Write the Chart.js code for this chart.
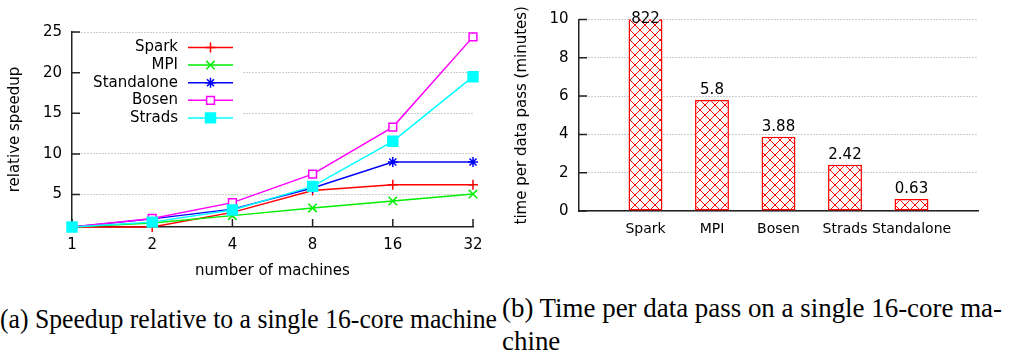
<!DOCTYPE html>
<html>
<head>
<meta charset="utf-8">
<script src="https://cdn.jsdelivr.net/npm/chart.js@4"></script>
<style>
  body { margin: 0; background: #fff; width: 1012px; height: 354px; position: relative; overflow: hidden; }
  .box { position: absolute; }
  .cap { position: absolute; font-family: "Liberation Serif", "Times New Roman", serif; font-size: 27px; line-height: 27px; white-space: nowrap; transform-origin: 0 0; color: #000; }
</style>
</head>
<body>
<div class="box" style="left:0;top:0"><canvas id="speedup" width="500" height="290"></canvas></div>
<div class="box" style="left:500px;top:0"><canvas id="pass" width="512" height="260"></canvas></div>
<div class="cap" id="capA" style="left:0;top:306px">(a) Speedup relative to a single 16-core machine</div>
<div class="cap" id="capB1" style="left:502px;top:295px">(b) Time per data pass on a single 16-core ma-</div>
<div class="cap" id="capB2" style="left:502px;top:328px">chine</div>
<script>
// data
const machines = [1, 2, 4, 8, 16, 32];
const sparkSpeedup = [1, 1.0, 2.8, 5.5, 6.2, 6.2];
const mpiSpeedup = [1, 1.5, 2.4, 3.35, 4.2, 5.05];
const standaloneSpeedup = [1, 2.0, 3.2, 5.8, 9.0, 9.0];
const bosenSpeedup = [1, 2.05, 4.0, 7.5, 13.3, 24.4];
const stradsSpeedup = [1, 1.6, 3.1, 6.0, 11.55, 19.5];
const speedupTicks = [5, 10, 15, 20, 25];

const systems = ['Spark', 'MPI', 'Bosen', 'Strads', 'Standalone'];
const passMinutes = [822, 5.8, 3.88, 2.42, 0.63];
const passTicks = [0, 2, 4, 6, 8, 10];

Chart.defaults.font.family = '"DejaVu Sans", sans-serif';
Chart.defaults.font.size = 15;
Chart.defaults.color = '#000';

const axisColor = '#222';
const gridColor = '#9a9a9a';

// small ticks pointing into the plot, like gnuplot
const inwardTicks = {
  id: 'inwardTicks',
  beforeDatasetsDraw(chart, args, opts) {
    const {ctx, chartArea: a} = chart;
    ctx.save();
    ctx.strokeStyle = axisColor;
    ctx.lineWidth = 1.5;
    ctx.beginPath();
    chart.scales.y.ticks.forEach(t => {
      const y = chart.scales.y.getPixelForValue(t.value);
      ctx.moveTo(a.left, y);
      ctx.lineTo(a.left + 8, y);
    });
    if (opts.x) {
      chart.scales.x.ticks.forEach(t => {
        const x = chart.scales.x.getPixelForValue(t.value);
        ctx.moveTo(x, a.bottom);
        ctx.lineTo(x, a.bottom - 8);
      });
    }
    ctx.stroke();
    ctx.restore();
  }
};

// legend box with text on the left and the line sample on the right
const speedupLegend = {
  id: 'speedupLegend',
  beforeDatasetsDraw(chart) {
    const ctx = chart.ctx;
    ctx.save();
    ctx.fillStyle = '#fff';
    ctx.fillRect(80, 38, 163, 89);
    ctx.font = '15px "DejaVu Sans"';
    ctx.textAlign = 'right';
    ctx.textBaseline = 'middle';
    chart.data.datasets.forEach((ds, i) => {
      const y = 47.5 + i * 17.6;
      ctx.fillStyle = '#000';
      ctx.fillText(ds.label, 178, y);
      ctx.strokeStyle = ds.borderColor;
      ctx.lineWidth = 1.5;
      ctx.beginPath();
      ctx.moveTo(188, y);
      ctx.lineTo(233, y);
      ctx.stroke();
      ctx.fillStyle = ds.pointBackgroundColor;
      Chart.helpers.drawPoint(ctx, {pointStyle: ds.pointStyle, rotation: 0, radius: ds.pointRadius, borderWidth: 1.5}, 210.5, y);
    });
    ctx.restore();
  }
};

const series = [
  {label: 'Spark', values: sparkSpeedup, color: '#ff0000', fill: '#ff0000', style: 'cross', r: 5},
  {label: 'MPI', values: mpiSpeedup, color: '#00ee00', fill: '#00ee00', style: 'crossRot', r: 6},
  {label: 'Standalone', values: standaloneSpeedup, color: '#0000ff', fill: '#0000ff', style: 'star', r: 5},
  {label: 'Bosen', values: bosenSpeedup, color: '#ff00ff', fill: '#ffffff', style: 'rect', r: 5.5},
  {label: 'Strads', values: stradsSpeedup, color: '#00ffff', fill: '#00ffff', style: 'rect', r: 7}
];

new Chart(document.getElementById('speedup'), {
  type: 'line',
  data: {
    datasets: series.map((s, i) => ({
      label: s.label,
      data: machines.map((m, j) => ({x: m, y: s.values[j]})),
      borderColor: s.color,
      backgroundColor: s.fill,
      borderWidth: 1.5,
      pointStyle: s.style,
      pointRadius: s.r,
      pointBorderColor: s.color,
      pointBackgroundColor: s.fill,
      pointBorderWidth: 1.5,
      tension: 0,
      clip: false,
      order: series.length - 1 - i
    }))
  },
  options: {
    responsive: false,
    animation: false,
    events: [],
    layout: {padding: {left: 0, right: 27, top: 32, bottom: 0}},
    plugins: {legend: {display: false}, tooltip: {enabled: false}, inwardTicks: {x: true}},
    scales: {
      x: {
        type: 'logarithmic',
        min: 1,
        max: 32,
        afterBuildTicks: s => { s.ticks = machines.map(v => ({value: v})); },
        afterFit: s => { s.height = 63; },
        ticks: {padding: 9, autoSkip: false, maxRotation: 0, callback: v => String(v)},
        grid: {display: false, drawTicks: false},
        border: {color: axisColor, width: 1.5},
        title: {display: true, text: 'number of machines', padding: {top: 0, bottom: 10}}
      },
      y: {
        min: 1,
        max: 25,
        afterBuildTicks: s => { s.ticks = speedupTicks.map(v => ({value: v})); },
        afterFit: s => { s.width = 72; },
        ticks: {padding: 10},
        grid: {color: gridColor, lineWidth: 1, drawTicks: false},
        border: {color: axisColor, width: 1.5, dash: [1, 2]},
        title: {display: true, text: 'relative speedup', padding: {top: 6, bottom: 0}}
      }
    }
  },
  plugins: [speedupLegend, inwardTicks]
});

// red cross hatch fill
function hatch() {
  const c = document.createElement('canvas');
  c.width = 10; c.height = 10;
  const g = c.getContext('2d');
  g.fillStyle = '#fff';
  g.fillRect(0, 0, 10, 10);
  g.strokeStyle = '#ff0000';
  g.lineWidth = 1;
  g.beginPath();
  [-10, 0, 10].forEach(o => {
    g.moveTo(o, 0); g.lineTo(o + 10, 10);
    g.moveTo(o, 10); g.lineTo(o + 10, 0);
  });
  g.stroke();
  return g.createPattern(c, 'repeat');
}

const barValues = {
  id: 'barValues',
  afterDatasetsDraw(chart) {
    const {ctx, chartArea} = chart;
    const values = chart.data.datasets[0].data;
    ctx.save();
    ctx.font = '15px "DejaVu Sans"';
    ctx.fillStyle = '#000';
    ctx.textAlign = 'center';
    ctx.textBaseline = 'middle';
    chart.getDatasetMeta(0).data.forEach((bar, i) => {
      const v = values[i];
      if (v == null) return;
      ctx.fillText(String(v), bar.x, Math.max(bar.y - 10, chartArea.top));
    });
    ctx.restore();
  }
};

new Chart(document.getElementById('pass'), {
  type: 'bar',
  data: {
    labels: ['', ...systems, ''],
    datasets: [{
      data: [null, ...passMinutes, null],
      backgroundColor: hatch(),
      borderColor: '#ff0000',
      borderWidth: 1.5,
      borderSkipped: false,
      barPercentage: 0.51,
      categoryPercentage: 1
    }]
  },
  options: {
    responsive: false,
    animation: false,
    events: [],
    layout: {padding: {left: 0, right: 34, top: 14, bottom: 0}},
    plugins: {legend: {display: false}, tooltip: {enabled: false}},
    scales: {
      x: {
        offset: false,
        afterFit: s => { s.height = 49; },
        ticks: {padding: 10, autoSkip: false, maxRotation: 0, font: {size: 14}},
        grid: {display: false, drawTicks: false},
        border: {color: axisColor, width: 1.5}
      },
      y: {
        min: 0,
        max: 10,
        afterBuildTicks: s => { s.ticks = passTicks.map(v => ({value: v})); },
        afterFit: s => { s.width = 79; },
        ticks: {padding: 10.5},
        grid: {color: gridColor, lineWidth: 1, drawTicks: false},
        border: {color: axisColor, width: 1.5, dash: [1, 2]},
        title: {display: true, text: 'time per data pass (minutes)', padding: {top: 13.5, bottom: 0}}
      }
    }
  },
  plugins: [inwardTicks, barValues]
});

// captions are set in a condensed Times, squeeze them to the measured widths
function squeeze(id, width) {
  const el = document.getElementById(id);
  const k = width / el.getBoundingClientRect().width;
  el.style.transform = 'scaleX(' + k + ')';
  return k;
}
squeeze('capA', 497);
const kb = squeeze('capB1', 500);
document.getElementById('capB2').style.transform = 'scaleX(' + kb + ')';
</script>
</body>
</html>
